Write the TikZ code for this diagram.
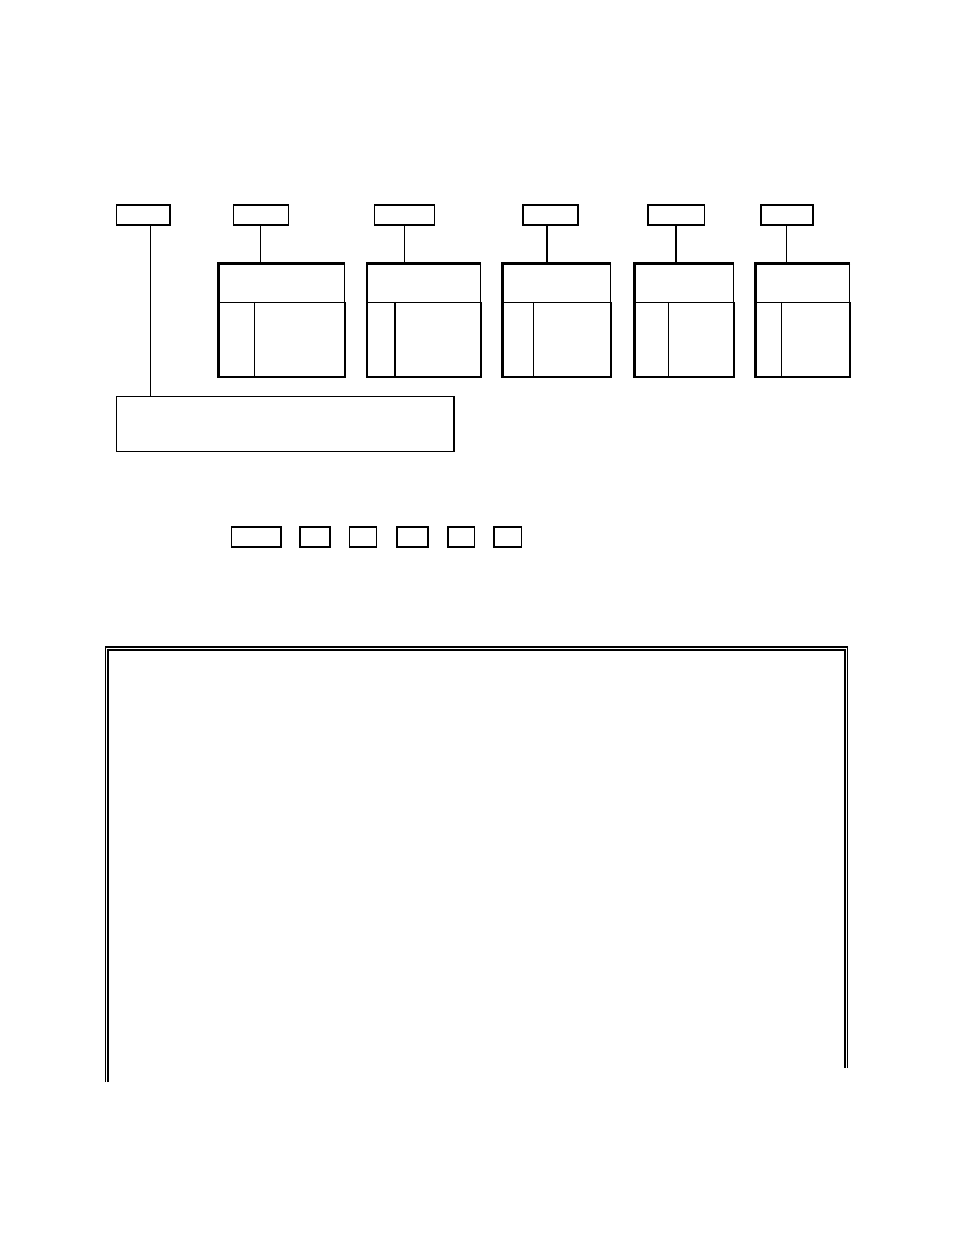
\documentclass[tikz,border=0pt]{standalone}
\usetikzlibrary{calc}
\begin{document}
\begin{tikzpicture}[x=1pt,y=-1pt,
  lbl/.style={draw,line width=1.5pt,inner sep=0pt,anchor=north west},
  cell/.style={draw,line width=1.2pt,inner sep=0pt,anchor=north west},
  wire/.style={line width=1.2pt},
  frame/.style={line width=1.2pt}]
\useasboundingbox (0,0) rectangle (954,1235);
% label boxes top row
\node[lbl,minimum width=53.5pt,minimum height=20pt] (la) at (115.5,204) {};
\node[lbl,minimum width=55pt,minimum height=20pt] (lb) at (232.5,204) {};
\node[lbl,minimum width=60.2pt,minimum height=20pt] (lc) at (373.5,204) {};
\node[lbl,minimum width=55pt,minimum height=20pt] (ld) at (522,204) {};
\node[lbl,minimum width=56.5pt,minimum height=20pt] (le) at (647,204) {};
\node[lbl,minimum width=52pt,minimum height=20pt] (lf) at (760,204) {};
% tables
\foreach \n/\xa/\xb/\xv in {b/218.5/343.8/254.3, c/367/479.8/395, d/502.3/609.8/533.7, e/634.3/732.5/668.3, f/755.3/848.8/781.7}{
  \node[cell,minimum width={\xb-\xa},minimum height=38.5pt] (h\n) at (\xa,263.3) {};
  \node[cell,minimum width={\xb-\xa},minimum height=74pt] (t\n) at (\xa,301.8) {};
  \draw[line width=2.4pt] (h\n.north east) -- (h\n.north west) -- (t\n.south west) -- (t\n.south east) -- (t\n.north east);
  \coordinate (v\n) at (\xv,301.8);
  \draw[line width=1.4pt] (v\n) -- (v\n |- t\n.south);
}
% connectors
\draw[wire] (lb.south) -- (lb.south |- hb.north);
\draw[wire] (lc.south) -- (lc.south |- hc.north);
\coordinate (jd) at (547.3,224);
\draw[line width=2.2pt] (jd) -- (jd |- hd.north);
\draw[wire] (le.south) -- (le.south |- he.north);
\draw[wire] (lf.south) -- (lf.south |- hf.north);
% long box
\node[cell,minimum width=337.8pt,minimum height=55.5pt] (note) at (115.5,395.5) {};
\coordinate (ja) at (150.5,224);
\draw[wire] (ja) -- (ja |- note.north);
% small boxes row
\node[lbl,minimum width=49.5pt,minimum height=20.2pt] (s1) at (230.5,526.2) {};
\node[lbl,minimum width=29.8pt,minimum height=20.2pt] (s2) at (299.2,526.2) {};
\node[lbl,minimum width=27.2pt,minimum height=20.2pt] (s3) at (348.5,526.2) {};
\node[lbl,minimum width=30.8pt,minimum height=20.2pt] (s4) at (396.2,526.2) {};
\node[lbl,minimum width=26.5pt,minimum height=20.2pt] (s5) at (447.2,526.2) {};
\node[lbl,minimum width=27.5pt,minimum height=20.2pt] (s6) at (493,526.2) {};
% big open frame (double line)
\draw[frame] (105.5,1082) |- (847.5,647) -- (847.5,1068);
\draw[frame] (108,1082) |- (845,650) -- (845,1068);
\end{tikzpicture}
\end{document}
